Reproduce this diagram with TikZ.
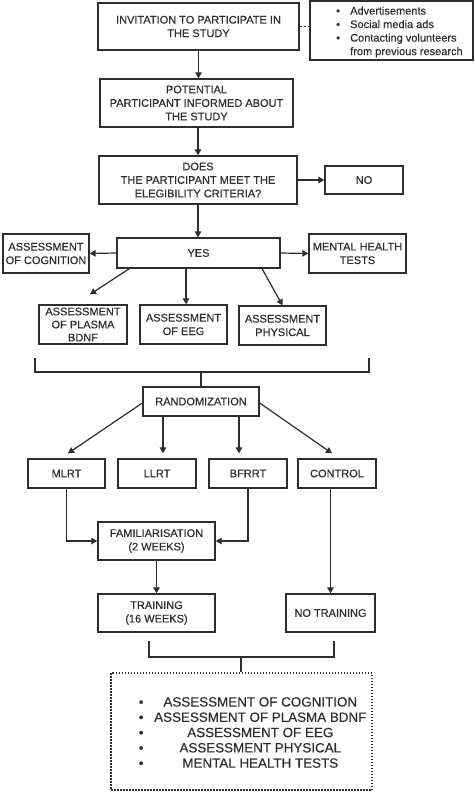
\documentclass[tikz,border=0pt]{standalone}
\usepackage{fontspec}
\setmainfont{Liberation Sans}[FakeBold=0.3]
\usetikzlibrary{arrows.meta,calc}
\definecolor{ink}{HTML}{2E2E2E}
\begin{document}
\begin{tikzpicture}[x=1pt,y=-1pt,
  every node/.style={text=ink,font=\fontsize{11}{13.5}\selectfont},
  box/.style={draw=ink,line width=1.3pt,inner sep=0pt,align=center},
  arr/.style={draw=ink,line width=1.2pt,-{Triangle[length=6pt,width=6.5pt]}},
  brk/.style={draw=ink,line width=2.2pt},
  dotbox/.style={draw=ink,line width=1.5pt,dash pattern=on 1.5pt off 1.5pt},
  dashline/.style={draw=ink,line width=1.2pt,dash pattern=on 2pt off 2pt}]
\useasboundingbox (0,0) rectangle (474,794);
\fill[white] (0,0) rectangle (474,794);

% top row
\node[box,minimum width=201,minimum height=47] (inv) at (198.5,26.5) {INVITATION TO PARTICIPATE IN\\THE STUDY};
\node[box,minimum width=163,minimum height=59] (bul) at (391.5,30.5) {};
\node[anchor=west,inner sep=0pt,align=left] (bultxt) at (336,32)
  {\makebox[14pt][l]{\textbullet}Advertisements\\
   \makebox[14pt][l]{\textbullet}Social media ads\\
   \makebox[14pt][l]{\textbullet}Contacting volunteers\\
   \hspace*{14pt}from previous research};
\draw[dashline] (inv.east) -- (inv.east -| bul.west);

\node[box,minimum width=193,minimum height=48] (pot) at (196.5,103) {POTENTIAL\\PARTICIPANT INFORMED ABOUT\\THE STUDY};
\draw[arr] (inv.south) -- (inv.south |- pot.north);

\node[box,minimum width=198,minimum height=48] (does) at (198,180) {DOES\\THE PARTICIPANT MEET THE\\ELEGIBILITY CRITERIA?};
\draw[arr] (pot.south -| does.north) -- (does.north);

\node[box,minimum width=78,minimum height=28] (no) at (364,180) {NO};
\draw[arr] (does.east) -- (no.west);

\node[box,minimum width=163,minimum height=30] (yes) at (198.5,253) {YES};
\draw[arr] (does.south) -- (does.south |- yes.north);

\node[box,minimum width=86,minimum height=39] (cog) at (46,253.5) {ASSESSMENT\\OF COGNITION};
\node[box,minimum width=97,minimum height=39] (mht) at (357.5,253.5) {MENTAL HEALTH\\TESTS};
\draw[arr] (yes.west) -- (cog.east);
\draw[arr] (yes.east) -- (mht.west);

\node[box,minimum width=88,minimum height=39,font=\fontsize{11}{13}\selectfont] (bdnf) at (83,324.5) {ASSESSMENT\\OF PLASMA\\BDNF};
\node[box,minimum width=87,minimum height=39] (eeg) at (183.5,324.5) {ASSESSMENT\\OF EEG};
\node[box,minimum width=87,minimum height=39] (phys) at (282.5,325.5) {ASSESSMENT\\PHYSICAL};
\draw[arr] ($(yes.south west)+(13,0)$) -- ($(bdnf.north)+(7,-10)$);
\draw[arr] ($(yes.south)+(-12.5,0)$) -- ($(eeg.north)+(2.5,0)$);
\draw[arr] ($(yes.south)+(63.5,0)$) -- (phys.north);

% bracket 1
\coordinate (b1l) at (35,358);
\coordinate (b1r) at (369,358);
\coordinate (b1m) at (201,372);
\draw[brk] (b1l) -- ++(0,14) -| (b1r);

\node[box,minimum width=116,minimum height=29] (rand) at (201,401.5) {RANDOMIZATION};
\draw[brk] (b1m) -- (rand.north);

\node[box,minimum width=77,minimum height=29] (mlrt) at (66.5,473.5) {MLRT};
\node[box,minimum width=78,minimum height=29] (llrt) at (157,473.5) {LLRT};
\node[box,minimum width=78,minimum height=29] (bfrrt) at (248,473.5) {BFRRT};
\node[box,minimum width=78,minimum height=29] (ctrl) at (337,473.5) {CONTROL};
\draw[arr] ($(rand.west)+(0,1.5)$) -- ($(mlrt.north)+(1.5,-5)$);
\draw[arr] ($(rand.south)+(-38,0)$) -- ($(llrt.north)+(6,-5)$);
\draw[arr] ($(rand.south)+(38,0)$) -- ($(bfrrt.north)+(-9,-5)$);
\draw[arr] ($(rand.east)+(0,1.5)$) -- ($(ctrl.north)+(-5,-5)$);

\node[box,minimum width=117,minimum height=38] (fam) at (156.5,541) {FAMILIARISATION\\(2 WEEKS)};
\draw[arr] (mlrt.south) |- (fam.west);
\draw[arr] (bfrrt.south) |- (fam.east);

\node[box,minimum width=117,minimum height=38] (train) at (156.5,613) {TRAINING\\(16 WEEKS)};
\node[box,minimum width=89,minimum height=38] (notrain) at (330.5,613) {NO TRAINING};
\draw[arr] (fam.south) -- (train.north);
\draw[arr] (notrain.north |- ctrl.south) -- (notrain.north);

% bracket 2
\coordinate (b2l) at (149,641);
\coordinate (b2r) at (334,641);
\coordinate (b2m) at (241,657);
\draw[brk] (b2l) -- ++(0,16) -| (b2r);

\node[dotbox,minimum width=261,minimum height=117,inner sep=0pt] (final) at (241.5,731.5) {};
\draw[brk] (b2m) -- (final.north -| b2m);
\node[anchor=west,inner sep=0pt,align=left,font=\fontsize{13.4}{15.3}\selectfont] (finaltxt) at (138.6,732.5)
  {\makebox[8pt][l]{\textbullet}\makebox[227pt][c]{ASSESSMENT OF COGNITION}\\
   \makebox[8pt][l]{\textbullet}\makebox[227pt][c]{ASSESSMENT OF PLASMA BDNF}\\
   \makebox[8pt][l]{\textbullet}\makebox[227pt][c]{ASSESSMENT OF EEG}\\
   \makebox[8pt][l]{\textbullet}\makebox[227pt][c]{ASSESSMENT PHYSICAL}\\
   \makebox[8pt][l]{\textbullet}\makebox[227pt][c]{MENTAL HEALTH TESTS}};
\end{tikzpicture}
\end{document}
